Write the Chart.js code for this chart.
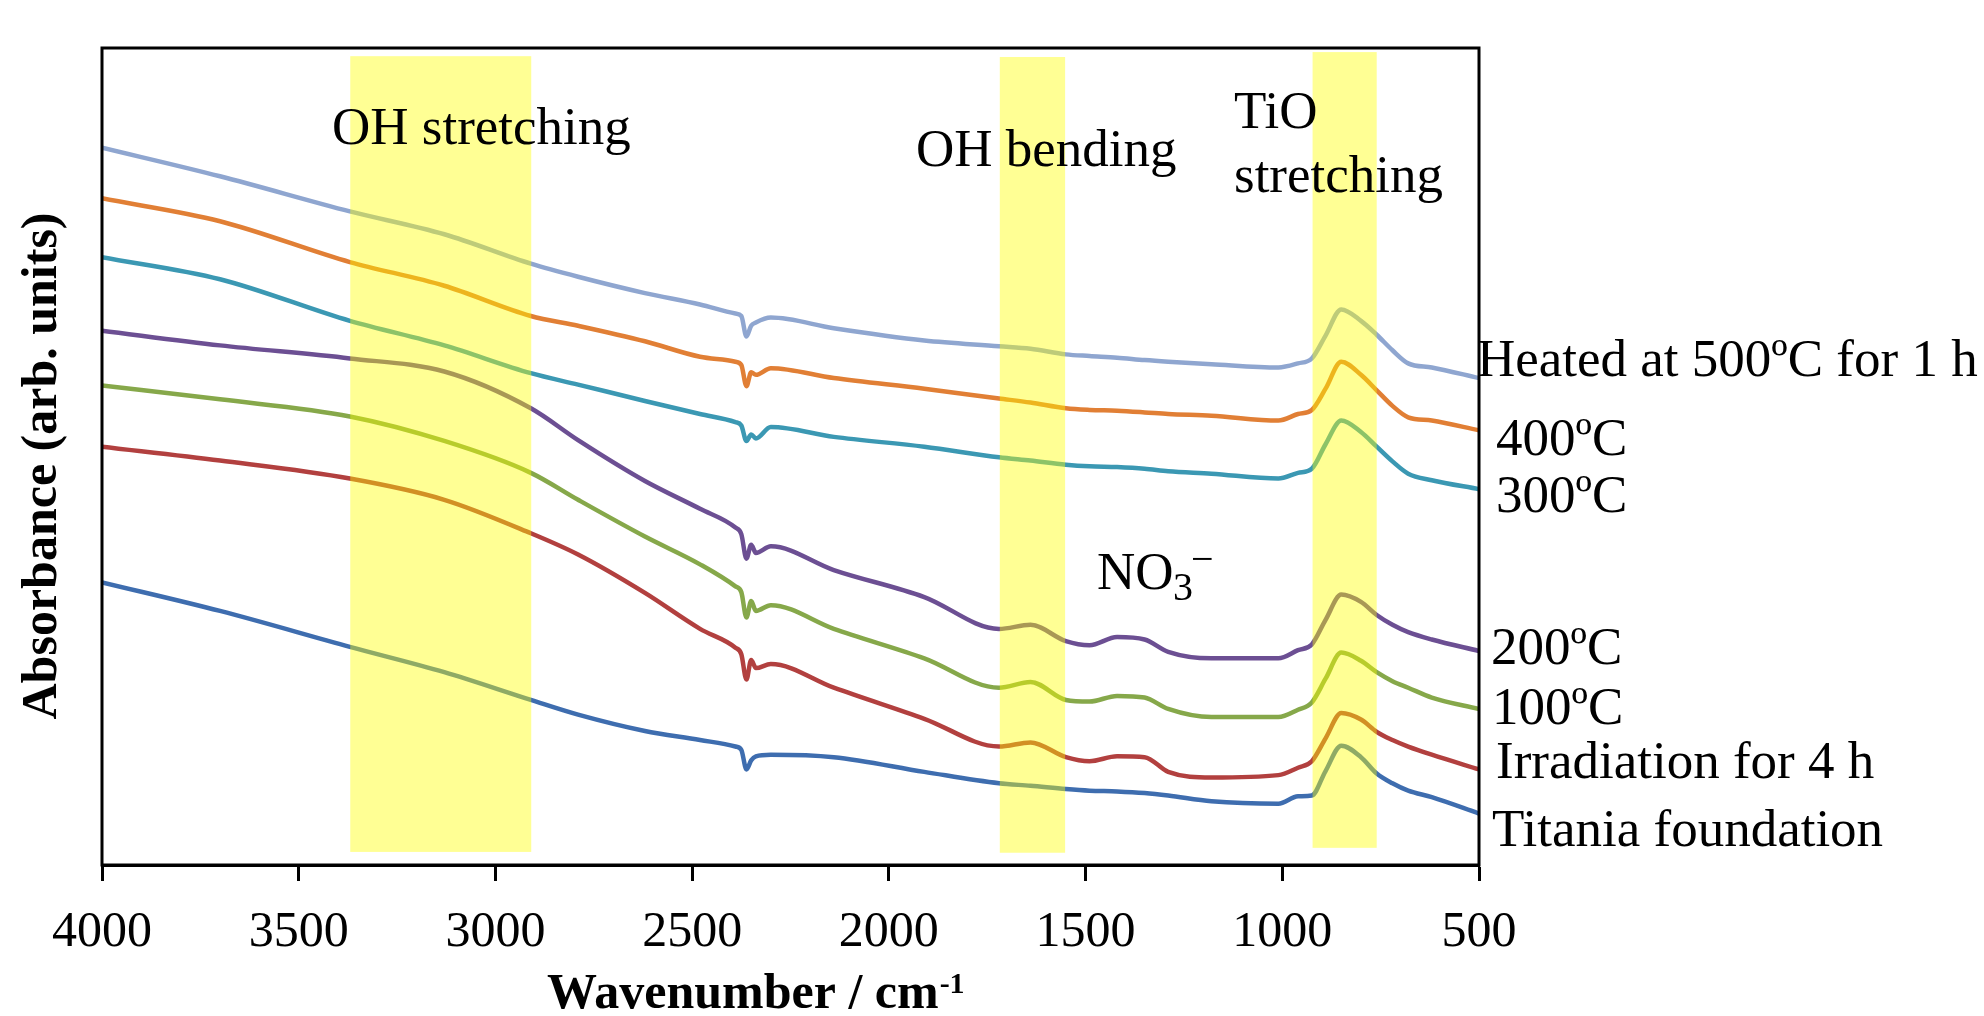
<!DOCTYPE html>
<html>
<head>
<meta charset="utf-8">
<script src="https://cdn.jsdelivr.net/npm/chart.js@4.4.0/dist/chart.umd.min.js"></script>
<style>
  html, body { margin: 0; padding: 0; background: #fff; }
  canvas { display: block; }
</style>
</head>
<body>
<canvas id="chart" width="1984" height="1016"></canvas>
<script>
// wavenumbers (cm-1), shared by all spectra
const wavenumbers = [4000, 3700, 3370, 3130, 2910, 2790, 2620, 2480, 2390, 2375, 2362, 2350, 2338, 2300,
  2140, 1910, 1720, 1640, 1550, 1490, 1420, 1350, 1290, 1180, 1010, 960, 925, 890, 850, 800, 760, 720, 680, 620, 500];

// absorbance, arbitrary units (stacked as in the figure)
const heated500 = [0.878, 0.843, 0.800, 0.772, 0.736, 0.720, 0.700, 0.686, 0.675, 0.672, 0.647, 0.660, 0.664, 0.670,
  0.657, 0.642, 0.635, 0.632, 0.625, 0.623, 0.621, 0.618, 0.616, 0.613, 0.609, 0.614, 0.620, 0.648, 0.680, 0.666, 0.649, 0.630, 0.614, 0.609, 0.596];
const heated400 = [0.816, 0.788, 0.738, 0.709, 0.672, 0.660, 0.641, 0.622, 0.616, 0.612, 0.586, 0.603, 0.600, 0.608,
  0.596, 0.583, 0.571, 0.566, 0.559, 0.557, 0.556, 0.554, 0.552, 0.550, 0.544, 0.552, 0.557, 0.583, 0.616, 0.600, 0.581, 0.562, 0.548, 0.544, 0.532];
const heated300 = [0.744, 0.717, 0.666, 0.636, 0.602, 0.588, 0.568, 0.552, 0.542, 0.538, 0.519, 0.527, 0.522, 0.536,
  0.524, 0.512, 0.499, 0.495, 0.490, 0.488, 0.487, 0.485, 0.482, 0.479, 0.473, 0.480, 0.485, 0.515, 0.544, 0.530, 0.512, 0.494, 0.479, 0.471, 0.460];
const heated200 = [0.654, 0.636, 0.620, 0.604, 0.559, 0.520, 0.470, 0.436, 0.413, 0.405, 0.375, 0.392, 0.382, 0.390,
  0.361, 0.328, 0.289, 0.294, 0.274, 0.269, 0.279, 0.276, 0.261, 0.253, 0.253, 0.263, 0.270, 0.300, 0.331, 0.322, 0.306, 0.294, 0.285, 0.276, 0.262];
const heated100 = [0.587, 0.570, 0.549, 0.519, 0.480, 0.447, 0.402, 0.368, 0.341, 0.334, 0.303, 0.323, 0.311, 0.318,
  0.289, 0.253, 0.217, 0.224, 0.202, 0.200, 0.207, 0.205, 0.191, 0.181, 0.181, 0.190, 0.199, 0.228, 0.260, 0.250, 0.236, 0.225, 0.217, 0.205, 0.191];
const irradiated = [0.512, 0.495, 0.473, 0.447, 0.406, 0.380, 0.333, 0.289, 0.266, 0.258, 0.227, 0.251, 0.241, 0.246,
  0.217, 0.179, 0.145, 0.150, 0.132, 0.127, 0.133, 0.132, 0.114, 0.107, 0.110, 0.119, 0.127, 0.155, 0.186, 0.178, 0.163, 0.153, 0.145, 0.135, 0.117];
const foundation = [0.346, 0.311, 0.267, 0.236, 0.202, 0.184, 0.164, 0.153, 0.145, 0.141, 0.117, 0.128, 0.133, 0.135,
  0.132, 0.114, 0.100, 0.097, 0.093, 0.091, 0.090, 0.088, 0.085, 0.078, 0.075, 0.084, 0.085, 0.115, 0.146, 0.132, 0.112, 0.100, 0.091, 0.083, 0.063];

const seriesLabels = ['Heated at 500ºC for 1 h', '400ºC', '300ºC', '200ºC', '100ºC', 'Irradiation for 4 h', 'Titania foundation'];
const seriesValues = [heated500, heated400, heated300, heated200, heated100, irradiated, foundation];
const seriesColors = ['#8fa6d0', '#e17f35', '#3b98b3', '#6c4f93', '#86a84a', '#b2403f', '#3e6daf'];

// highlighted bands (cm-1)
const bandNames = ['OH stretching', 'OH bending', 'TiO stretching'];
const bandFrom = [3369, 1718, 923];
const bandTo = [2909, 1552, 760];
const bandTop = [0.990, 0.989, 0.995];
const bandBottom = [0.016, 0.015, 0.021];

const serif = "'Liberation Serif', 'Times New Roman', serif";

const bandsPlugin = {
  id: 'bands',
  afterDatasetsDraw(chart) {
    const ctx = chart.ctx;
    const x = chart.scales.x, y = chart.scales.y;
    ctx.save();
    ctx.fillStyle = 'rgba(255,255,0,0.42)';
    for (let i = 0; i < bandFrom.length; i++) {
      const x1 = x.getPixelForValue(bandFrom[i]);
      const x2 = x.getPixelForValue(bandTo[i]);
      const y1 = y.getPixelForValue(bandTop[i]);
      const y2 = y.getPixelForValue(bandBottom[i]);
      ctx.fillRect(x1, y1, x2 - x1, y2 - y1);
    }
    ctx.restore();
  },
  afterDraw(chart) {
    const ctx = chart.ctx;
    const a = chart.chartArea;
    ctx.save();
    // frame
    ctx.strokeStyle = '#000';
    ctx.lineWidth = 3;
    ctx.strokeRect(a.left, a.top, a.right - a.left, a.bottom - a.top);

    ctx.fillStyle = '#000';
    ctx.textAlign = 'left';
    ctx.textBaseline = 'alphabetic';
    ctx.font = '53px ' + serif;
    // band labels
    ctx.fillText('OH stretching', 332, 144);
    ctx.fillText('OH bending', 916, 166);
    ctx.fillText('TiO', 1234, 128);
    ctx.fillText('stretching', 1234, 192);
    // nitrate
    ctx.fillText('NO', 1097, 589);
    ctx.font = '40px ' + serif;
    ctx.fillText('3', 1173, 600);
    ctx.fillText('\u2212', 1191, 572);

    // series labels on the right
    ctx.font = '53px ' + serif;
    const labelX = [1477, 1496, 1496, 1491, 1492, 1496, 1492];
    const labelY = [376, 455, 512, 664, 724, 778, 846];
    seriesLabels.forEach((t, i) => ctx.fillText(t, labelX[i], labelY[i]));

    // axis titles
    ctx.font = 'bold 50px ' + serif;
    ctx.fillText('Wavenumber / cm', 547, 1008);
    const w = ctx.measureText('Wavenumber / cm').width;
    ctx.font = 'bold 30px ' + serif;
    ctx.fillText('-1', 547 + w + 1, 993);

    ctx.font = 'bold 50px ' + serif;
    ctx.translate(56, 466);
    ctx.rotate(-Math.PI / 2);
    ctx.textAlign = 'center';
    ctx.fillText('Absorbance (arb. units)', 0, 0);
    ctx.restore();
  }
};

const datasets = seriesValues.map((vals, i) => ({
  label: seriesLabels[i],
  data: wavenumbers.map((w, j) => ({ x: w, y: vals[j] })),
  borderColor: seriesColors[i],
  borderWidth: 4.5,
  pointRadius: 0,
  fill: false,
  cubicInterpolationMode: 'monotone'
}));

new Chart(document.getElementById('chart'), {
  type: 'line',
  data: { datasets: datasets },
  options: {
    responsive: false,
    animation: false,
    devicePixelRatio: 1,
    layout: { padding: { left: 102, top: 48, right: 505, bottom: 31 } },
    plugins: { legend: { display: false }, tooltip: { enabled: false } },
    scales: {
      x: {
        type: 'linear',
        reverse: true,
        min: 500,
        max: 4000,
        ticks: {
          stepSize: 500,
          autoSkip: false,
          maxRotation: 0,
          padding: 22,
          color: '#000',
          font: { family: serif, size: 50 },
          callback: (v) => String(v)
        },
        grid: {
          drawOnChartArea: false,
          drawTicks: true,
          tickLength: 16,
          tickWidth: 3,
          tickColor: '#000'
        },
        border: { display: true, color: '#000', width: 3 }
      },
      y: { display: false, min: 0, max: 1 }
    }
  },
  plugins: [bandsPlugin]
});
</script>
</body>
</html>
